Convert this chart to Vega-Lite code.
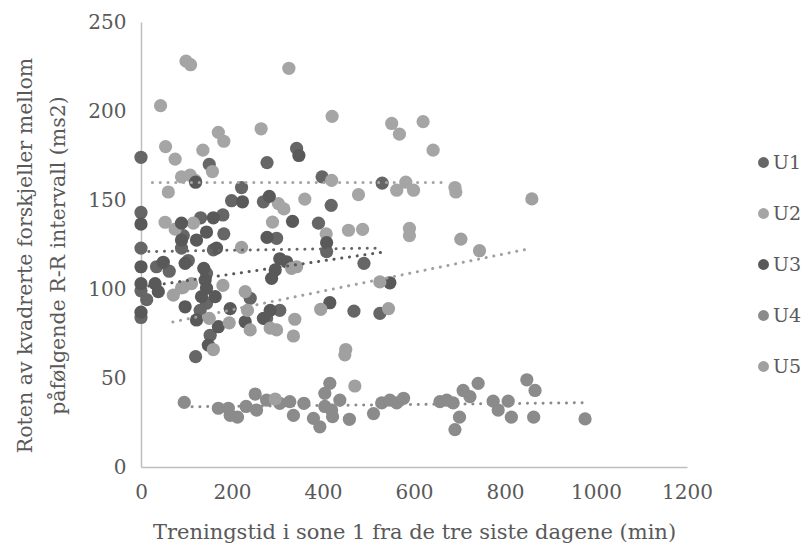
{
  "$schema": "https://vega.github.io/schema/vega-lite/v6.json",
  "width": 546,
  "height": 445,
  "autosize": {"type": "none"},
  "padding": {"left": 141, "top": 22, "right": 121, "bottom": 84},
  "background": "white",
  "config": {"view": {"stroke": null}, "font": "DejaVu Serif"},
  "datasets": {
    "pts": [
      {"s":"U1","x":0,"y":174},{"s":"U1","x":0,"y":143},{"s":"U1","x":0,"y":123},{"s":"U1","x":0,"y":99},{"s":"U1","x":0,"y":84},
      {"s":"U1","x":150,"y":170},{"s":"U1","x":277,"y":171},{"s":"U1","x":342,"y":179},{"s":"U1","x":398,"y":163},{"s":"U1","x":530,"y":159.5},
      {"s":"U1","x":221,"y":157},{"s":"U1","x":199,"y":149.6},{"s":"U1","x":269,"y":149},{"s":"U1","x":418,"y":147},{"s":"U1","x":131,"y":140},
      {"s":"U1","x":180,"y":141.6},{"s":"U1","x":93,"y":130},{"s":"U1","x":182,"y":131},{"s":"U1","x":298,"y":128.5},{"s":"U1","x":390,"y":137},
      {"s":"U1","x":408,"y":121},{"s":"U1","x":89,"y":123},{"s":"U1","x":159,"y":122},{"s":"U1","x":34,"y":112.5},{"s":"U1","x":62,"y":110},
      {"s":"U1","x":12.5,"y":94},{"s":"U1","x":104,"y":116},{"s":"U1","x":144,"y":108.8},{"s":"U1","x":144,"y":92},{"s":"U1","x":130,"y":88},
      {"s":"U1","x":152,"y":74},{"s":"U1","x":120,"y":62},{"s":"U1","x":240,"y":94.8},{"s":"U1","x":276,"y":83.5},{"s":"U1","x":305,"y":88},
      {"s":"U1","x":490,"y":114.4},{"s":"U1","x":525,"y":86.3},{"s":"U1","x":468,"y":87.6},
      {"s":"U2","x":99,"y":228},{"s":"U2","x":109,"y":226},{"s":"U2","x":325,"y":224},{"s":"U2","x":43,"y":203},{"s":"U2","x":420,"y":197},
      {"s":"U2","x":264,"y":190},{"s":"U2","x":170,"y":188},{"s":"U2","x":182,"y":183},{"s":"U2","x":54,"y":180},{"s":"U2","x":75,"y":173},
      {"s":"U2","x":136,"y":178},{"s":"U2","x":157,"y":166},{"s":"U2","x":89,"y":163},{"s":"U2","x":108,"y":164},{"s":"U2","x":119,"y":161},
      {"s":"U2","x":60,"y":154.5},{"s":"U2","x":419,"y":161},{"s":"U2","x":551,"y":193},{"s":"U2","x":568,"y":187},{"s":"U2","x":620,"y":194},
      {"s":"U2","x":642,"y":178},{"s":"U2","x":582,"y":160},{"s":"U2","x":562,"y":155.5},{"s":"U2","x":599,"y":155.5},{"s":"U2","x":478,"y":153},
      {"s":"U2","x":302,"y":148},{"s":"U2","x":314,"y":145},{"s":"U2","x":360,"y":150.5},{"s":"U2","x":53,"y":137.5},{"s":"U2","x":75,"y":133.7},
      {"s":"U2","x":115,"y":137},{"s":"U2","x":289,"y":137.6},{"s":"U2","x":407,"y":131},{"s":"U2","x":456,"y":133},{"s":"U2","x":487,"y":133.5},
      {"s":"U2","x":590,"y":134},{"s":"U2","x":590,"y":130},{"s":"U2","x":690,"y":157},{"s":"U2","x":692,"y":154.5},
      {"s":"U3","x":0,"y":136.5},{"s":"U3","x":0,"y":112.5},{"s":"U3","x":0,"y":103},{"s":"U3","x":0,"y":87},{"s":"U3","x":347,"y":175},
      {"s":"U3","x":120,"y":160},{"s":"U3","x":223,"y":149},{"s":"U3","x":282,"y":152},{"s":"U3","x":89,"y":137},{"s":"U3","x":159,"y":140},
      {"s":"U3","x":144,"y":132},{"s":"U3","x":277,"y":129},{"s":"U3","x":333,"y":138},{"s":"U3","x":408,"y":126},{"s":"U3","x":89,"y":127.5},
      {"s":"U3","x":122,"y":127.5},{"s":"U3","x":166,"y":123},{"s":"U3","x":49,"y":115},{"s":"U3","x":31,"y":103},{"s":"U3","x":38,"y":98.5},
      {"s":"U3","x":97,"y":114.4},{"s":"U3","x":138,"y":111.6},{"s":"U3","x":141,"y":105},{"s":"U3","x":144,"y":100.4},{"s":"U3","x":133,"y":95.7},
      {"s":"U3","x":97,"y":90},{"s":"U3","x":122,"y":82.6},{"s":"U3","x":163,"y":95.7},{"s":"U3","x":170,"y":78.8},{"s":"U3","x":148,"y":68.5},
      {"s":"U3","x":196,"y":89},{"s":"U3","x":229,"y":81.6},{"s":"U3","x":284,"y":88},{"s":"U3","x":269,"y":83.5},{"s":"U3","x":305,"y":117},
      {"s":"U3","x":320,"y":115.3},{"s":"U3","x":295,"y":110.7},{"s":"U3","x":287,"y":106},{"s":"U3","x":547,"y":103.5},{"s":"U3","x":415,"y":92.3},
      {"s":"U4","x":95,"y":36.3},{"s":"U4","x":170,"y":33},{"s":"U4","x":192,"y":33},{"s":"U4","x":196,"y":29},{"s":"U4","x":212,"y":28},
      {"s":"U4","x":231,"y":34},{"s":"U4","x":251,"y":41},{"s":"U4","x":254,"y":32},{"s":"U4","x":276,"y":37.6},{"s":"U4","x":305,"y":35.8},
      {"s":"U4","x":327,"y":36.7},{"s":"U4","x":335,"y":29},{"s":"U4","x":358,"y":35.8},{"s":"U4","x":379,"y":27.3},{"s":"U4","x":393,"y":22.6},
      {"s":"U4","x":404,"y":41.4},{"s":"U4","x":415,"y":47},{"s":"U4","x":404,"y":34},{"s":"U4","x":419,"y":32},{"s":"U4","x":437,"y":37.6},
      {"s":"U4","x":421,"y":28.3},{"s":"U4","x":458,"y":26.8},{"s":"U4","x":511,"y":30},{"s":"U4","x":529,"y":36},{"s":"U4","x":547,"y":37.6},
      {"s":"U4","x":562,"y":36},{"s":"U4","x":577,"y":38.6},{"s":"U4","x":657,"y":36.7},{"s":"U4","x":672,"y":37.6},{"s":"U4","x":686,"y":36},
      {"s":"U4","x":700,"y":28},{"s":"U4","x":690,"y":21},{"s":"U4","x":708,"y":43},{"s":"U4","x":723,"y":39.5},{"s":"U4","x":741,"y":47},
      {"s":"U4","x":774,"y":37},{"s":"U4","x":785,"y":32},{"s":"U4","x":807,"y":37},{"s":"U4","x":814,"y":28},{"s":"U4","x":848,"y":49},
      {"s":"U4","x":866,"y":43},{"s":"U4","x":863,"y":28},{"s":"U4","x":976,"y":27},
      {"s":"U5","x":71,"y":96.6},{"s":"U5","x":89,"y":100.6},{"s":"U5","x":93,"y":101},{"s":"U5","x":111,"y":103},{"s":"U5","x":180,"y":102},
      {"s":"U5","x":150,"y":83.5},{"s":"U5","x":159,"y":66},{"s":"U5","x":194,"y":81},{"s":"U5","x":229,"y":98.5},{"s":"U5","x":234,"y":88},
      {"s":"U5","x":240,"y":77},{"s":"U5","x":284,"y":78},{"s":"U5","x":298,"y":77},{"s":"U5","x":338,"y":83},{"s":"U5","x":335,"y":73.6},
      {"s":"U5","x":221,"y":123.4},{"s":"U5","x":331,"y":111.6},{"s":"U5","x":342,"y":112.5},{"s":"U5","x":395,"y":88.6},{"s":"U5","x":525,"y":104},
      {"s":"U5","x":544,"y":89},{"s":"U5","x":448,"y":63},{"s":"U5","x":450,"y":66},{"s":"U5","x":470,"y":45.5},{"s":"U5","x":295,"y":38.2},
      {"s":"U5","x":703,"y":128},{"s":"U5","x":744,"y":121.5},{"s":"U5","x":859,"y":150.6}
    ],
    "trend": [
      {"s":"U1","x":0,"y":121},{"s":"U1","x":525,"y":123},
      {"s":"U2","x":25,"y":159.8},{"s":"U2","x":672,"y":159.8},
      {"s":"U3","x":0,"y":101},{"s":"U3","x":534,"y":120.8},
      {"s":"U4","x":95,"y":33.8},{"s":"U4","x":976,"y":36.1},
      {"s":"U5","x":70,"y":81.5},{"s":"U5","x":851,"y":122.5}
    ]
  },
  "layer": [
    {
      "data": {"name": "pts"},
      "mark": {"type": "point", "filled": true, "opacity": 1, "size": 175, "shape": "circle"},
      "encoding": {
        "x": {
          "field": "x", "type": "quantitative",
          "scale": {"domain": [0, 1200], "nice": false, "zero": true},
          "axis": {
            "values": [0, 200, 400, 600, 800, 1000, 1200],
            "format": "d",
            "grid": false, "ticks": false,
            "domainColor": "#bfbfbf", "domainWidth": 1.5,
            "labelFont": "DejaVu Serif", "labelFontSize": 20, "labelColor": "#595959",
            "labelPadding": 15, "labelFlush": false, "labelOverlap": false,
            "title": "Treningstid i sone 1 fra de tre siste dagene (min)",
            "titleFont": "DejaVu Serif", "titleFontSize": 21, "titleFontWeight": "normal", "titleColor": "#595959",
            "titleX": 273, "titleY": 65, "titleBaseline": "middle", "titleAlign": "center"
          }
        },
        "y": {
          "field": "y", "type": "quantitative",
          "scale": {"domain": [0, 250], "nice": false, "zero": true},
          "axis": {
            "values": [0, 50, 100, 150, 200, 250],
            "grid": false, "ticks": false,
            "domainColor": "#bfbfbf", "domainWidth": 1.5,
            "labelFont": "DejaVu Serif", "labelFontSize": 20, "labelColor": "#595959",
            "labelPadding": 15, "labelFlush": false, "labelOverlap": false,
            "title": ["Roten av kvadrerte forskjeller mellom", "påfølgende R-R intervall (ms2)"],
            "titleFont": "DejaVu Serif", "titleFontSize": 20.5, "titleFontWeight": "normal", "titleColor": "#595959",
            "titleAngle": -90, "titleX": -116, "titleY": 233, "titleBaseline": "middle", "titleAlign": "center",
            "titleLineHeight": 33
          }
        },
        "color": {
          "field": "s", "type": "nominal",
          "scale": {"domain": ["U1", "U2", "U3", "U4", "U5"], "range": ["#666666", "#a5a5a5", "#595959", "#8b8b8b", "#a0a0a0"]},
          "legend": {
            "orient": "none", "legendX": 613, "legendY": 131, "title": null,
            "symbolType": "circle", "symbolSize": 120, "symbolStrokeWidth": 0, "symbolOpacity": 1,
            "labelFont": "DejaVu Serif", "labelFontSize": 19, "labelColor": "#595959",
            "labelOffset": 0, "rowPadding": 31, "padding": 0
          }
        }
      }
    },
    {
      "data": {"name": "trend"},
      "mark": {"type": "line", "strokeDash": [0.1, 7.7], "strokeCap": "round", "strokeWidth": 3},
      "encoding": {
        "x": {"field": "x", "type": "quantitative"},
        "y": {"field": "y", "type": "quantitative"},
        "detail": {"field": "s", "type": "nominal"},
        "stroke": {
          "field": "s", "type": "nominal",
          "scale": {"domain": ["U1", "U2", "U3", "U4", "U5"], "range": ["#666666", "#a5a5a5", "#595959", "#8b8b8b", "#a0a0a0"]},
          "legend": null
        }
      }
    }
  ]
}
